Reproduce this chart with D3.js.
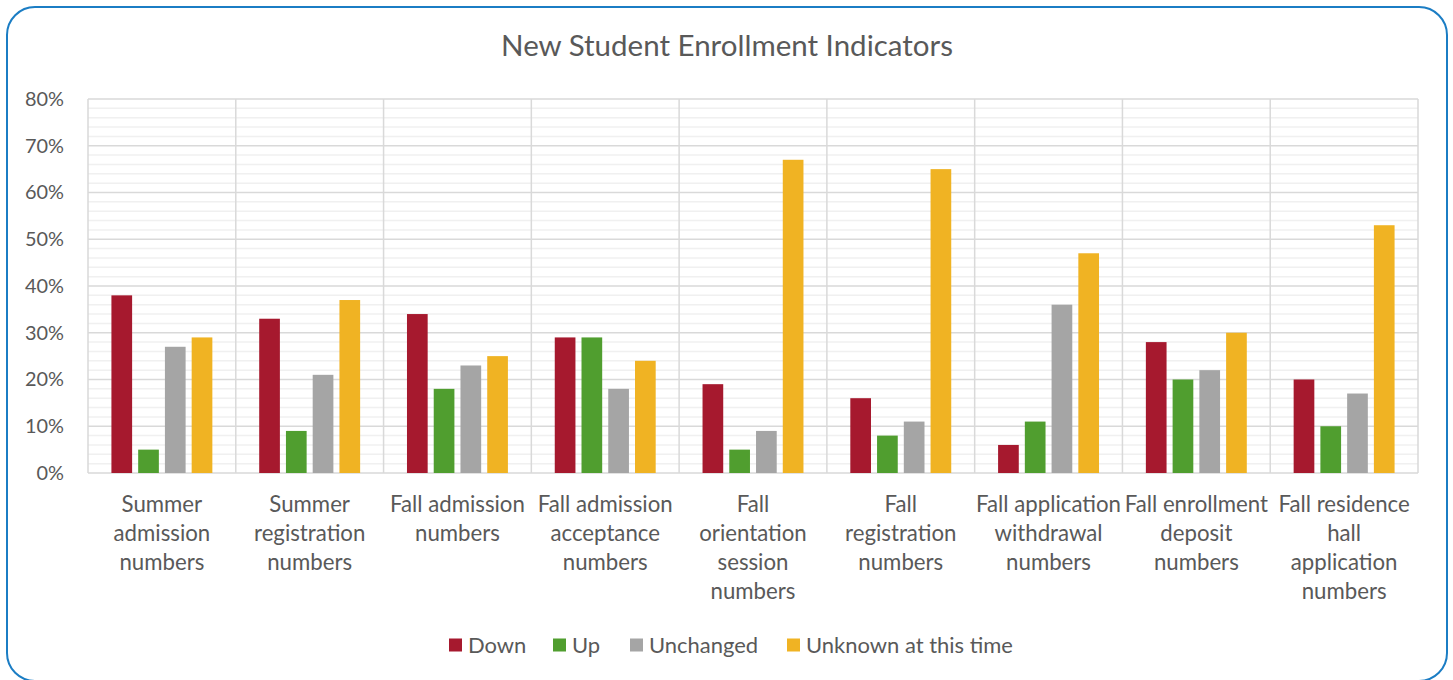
<!DOCTYPE html>
<html>
<head>
<meta charset="utf-8">
<script src="https://cdn.jsdelivr.net/npm/d3@7"></script>
<style>
  html, body { margin: 0; padding: 0; background: #fff; }
  svg { display: block; }
</style>
</head>
<body>
<svg id="chart" width="1453" height="680"></svg>
<script>
// ---- data ----
const title = "New Student Enrollment Indicators";
const categories = [
  "Summer\nadmission\nnumbers",
  "Summer\nregistration\nnumbers",
  "Fall admission\nnumbers",
  "Fall admission\nacceptance\nnumbers",
  "Fall\norientation\nsession\nnumbers",
  "Fall\nregistration\nnumbers",
  "Fall application\nwithdrawal\nnumbers",
  "Fall enrollment\ndeposit\nnumbers",
  "Fall residence\nhall\napplication\nnumbers"
];
const seriesNames = ["Down", "Up", "Unchanged", "Unknown at this time"];
const down      = [38, 33, 34, 29, 19, 16, 6, 28, 20];
const up        = [5, 9, 18, 29, 5, 8, 11, 20, 10];
const unchanged = [27, 21, 23, 18, 9, 11, 36, 22, 17];
const unknown   = [29, 37, 25, 24, 67, 65, 47, 30, 53];
const yTicks = [0, 10, 20, 30, 40, 50, 60, 70, 80];
const colors = ["#A6192E", "#509E2F", "#A5A5A5", "#F0B323"];

const seriesValues = [down, up, unchanged, unknown];

// ---- layout ----
const W = 1453, H = 680;
const plot = { left: 88, right: 1418, top: 99, bottom: 473 };
const FONT = "Lato, 'Noto Sans', sans-serif";
const TEXT = "#595959";

const svg = d3.select("#chart");

// helper to fit font size to a target width
function fitSize(str, targetW) {
  const t = svg.append("text").attr("font-family", FONT).attr("font-size", 100).text(str);
  const w = t.node().getComputedTextLength();
  t.remove();
  return 100 * targetW / w;
}
const titleSize = fitSize(title, 452);
const axisSize = fitSize("Fall application", 145);
const legendSize = fitSize("Unknown at this time", 207);
const tickSize = fitSize("80%", 39);

// border
svg.append("rect")
  .attr("x", 7).attr("y", 7).attr("width", 1440).attr("height", 674)
  .attr("rx", 28).attr("ry", 28)
  .attr("fill", "#fff").attr("stroke", "#1B7DC4").attr("stroke-width", 2);

// title
svg.append("text")
  .attr("x", 727).attr("y", 56)
  .attr("text-anchor", "middle")
  .attr("font-family", FONT).attr("font-size", titleSize)
  .attr("fill", TEXT).text(title);

// scales
const x0 = d3.scaleBand().domain(d3.range(categories.length))
  .range([plot.left, plot.right]).paddingInner(0).paddingOuter(0);
const y = d3.scaleLinear().domain([0, 80]).range([plot.bottom, plot.top]);

const bw = x0.bandwidth();
const barW = bw * 0.14;
const gap = bw * 0.041;
const groupW = barW * 4 + gap * 3;
const x1 = d3.scaleBand().domain(d3.range(4))
  .range([(bw - groupW) / 2, (bw - groupW) / 2 + groupW])
  .paddingInner(gap / (barW + gap)).paddingOuter(0);

// minor gridlines
const minor = d3.range(2, 80, 2).filter(v => v % 10 !== 0);
svg.append("g").selectAll("line").data(minor).join("line")
  .attr("x1", plot.left).attr("x2", plot.right)
  .attr("y1", d => y(d)).attr("y2", d => y(d))
  .attr("stroke", "#F0F0F0").attr("stroke-width", 1.5);

// major gridlines
svg.append("g").selectAll("line").data(yTicks).join("line")
  .attr("x1", plot.left).attr("x2", plot.right)
  .attr("y1", d => y(d)).attr("y2", d => y(d))
  .attr("stroke", "#D9D9D9").attr("stroke-width", 1.5);

// vertical category separators
const seps = d3.range(categories.length + 1);
svg.append("g").selectAll("line").data(seps).join("line")
  .attr("x1", d => d < categories.length ? x0(d) : plot.right)
  .attr("x2", d => d < categories.length ? x0(d) : plot.right)
  .attr("y1", plot.top).attr("y2", plot.bottom)
  .attr("stroke", "#D9D9D9").attr("stroke-width", 1.5);

// y axis labels
const yAxis = d3.axisLeft(y).tickValues(yTicks).tickFormat(d => d + "%").tickSize(0).tickPadding(24);
const gy = svg.append("g").attr("transform", `translate(${plot.left},0)`).call(yAxis);
gy.select(".domain").remove();
gy.selectAll("text").attr("font-family", FONT).attr("font-size", tickSize).attr("fill", TEXT);

// bars
const groups = svg.append("g").selectAll("g").data(categories.map((c, i) => i)).join("g")
  .attr("transform", i => `translate(${x0(i)},0)`);
groups.selectAll("rect").data(i => seriesValues.map((s, k) => ({ k, v: s[i] }))).join("rect")
  .attr("x", d => x1(d.k)).attr("width", x1.bandwidth())
  .attr("y", d => y(d.v)).attr("height", d => y(0) - y(d.v))
  .attr("fill", d => colors[d.k]);

// x axis labels
const lineH = 29;
const labels = svg.append("g").selectAll("text").data(categories).join("text")
  .attr("x", (d, i) => x0(i) + bw / 2)
  .attr("y", 512)
  .attr("text-anchor", "middle")
  .attr("font-family", FONT).attr("font-size", axisSize).attr("fill", TEXT);
labels.each(function (d) {
  const t = d3.select(this);
  d.split("\n").forEach((line, j) => {
    t.append("tspan").attr("x", t.attr("x")).attr("dy", j === 0 ? 0 : lineH).text(line);
  });
});

// legend
const legendX = [449, 553, 630, 787];
const leg = svg.append("g").selectAll("g").data(seriesNames).join("g")
  .attr("transform", (d, i) => `translate(${legendX[i]},645)`);
leg.append("rect").attr("x", 0).attr("y", -6.5).attr("width", 13).attr("height", 13)
  .attr("fill", (d, i) => colors[i]);
leg.append("text").attr("x", 19).attr("y", 0).attr("dy", "0.35em")
  .attr("font-family", FONT).attr("font-size", legendSize).attr("fill", TEXT)
  .text(d => d);
</script>
</body>
</html>
